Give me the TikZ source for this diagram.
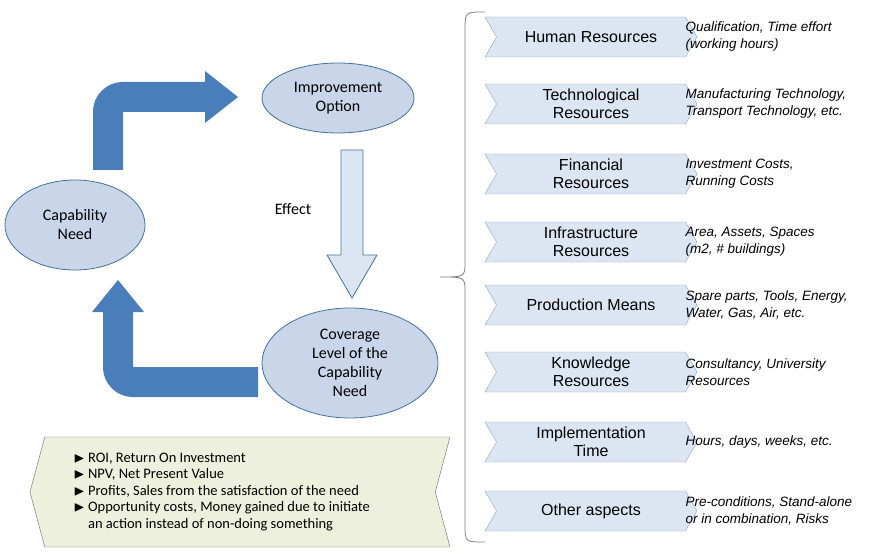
\documentclass[tikz,border=0pt]{standalone}
\usepackage{amssymb}
\usepackage{fontspec}
\setmainfont{Liberation Sans}
\newfontfamily\calib{Carlito}
\usetikzlibrary{shapes.geometric,shapes.arrows,shapes.symbols,positioning,arrows.meta}
\definecolor{ellfill}{HTML}{C9D6EA}
\definecolor{ellline}{HTML}{41719C}
\definecolor{chevfill}{HTML}{DCE6F2}
\definecolor{chevline}{HTML}{8EA6C4}
\definecolor{bluearrow}{HTML}{4A7EBB}
\definecolor{notefill}{HTML}{EDF0DD}
\tikzset{
    need/.style={ellipse, draw=ellline, thick, fill=ellfill, align=center, inner sep=0pt,
        font=\calib\fontsize{16}{19}\selectfont},
    resource/.style={signal, signal from=west, signal to=east, signal pointer angle=120,
        draw=chevline, fill=chevfill, minimum width=212pt, minimum height=40pt, align=center,
        font=\fontsize{16}{18}\selectfont, inner sep=1pt},
    detail/.style={anchor=west, align=left, font=\itshape\fontsize{13.5}{17}\selectfont},
    bigarrow/.style={line width=30pt, draw=bluearrow, rounded corners=15pt}
}
\begin{document}
\begin{tikzpicture}[x=1pt,y=-1pt]
    \useasboundingbox (0,0) rectangle (883,556);

    % ellipses of the cycle
    \node[need, minimum width=140pt, minimum height=90pt] (capability) at (75,225) {Capability\\Need};
    \node[need, minimum width=152pt, minimum height=70pt] (improvement) at (338,98) {Improvement\\Option};
    \node[need, minimum width=176pt, minimum height=110pt] (coverage) at (350,363) {Coverage\\Level of the\\Capability\\Need};

    % bent blue arrows
    \coordinate (top start) at (108,170);
    \coordinate (top end) at (238,97);
    \coordinate (bottom start) at (258,382);
    \coordinate (bottom end) at (118,280);
    \draw[bigarrow] (top start) |- (205,97);
    \fill[bluearrow] (205,71) -- (top end) -- (205,123) -- cycle;
    \draw[bigarrow] (bottom start) -| (118,312);
    \fill[bluearrow] (92,312) -- (bottom end) -- (144,312) -- cycle;

    % effect arrow
    \filldraw[draw=ellline, thick, fill=chevfill] (341,150) -- (363,150) -- (363,255) -- (377,255)
        -- (352,298) -- (327,255) -- (341,255) -- cycle;
    \node[font=\calib\fontsize{16}{19}\selectfont] (effect) at (293,209) {Effect};

    % brace
    \draw[gray, thick] (485,12) .. controls (465,12) .. (465,30) -- (465,262)
        .. controls (465,277) .. (440,277) .. controls (465,277) .. (465,292)
        -- (465,525) .. controls (465,542) .. (485,542);

    % resources
    \foreach \name/\txt/\det/\y in {
        hr/Human Resources/{Qualification, Time effort\\(working hours)}/37,
        tr/{Technological\\Resources}/{Manufacturing Technology,\\Transport Technology, etc.}/104,
        fr/{Financial\\Resources}/{Investment Costs,\\Running Costs}/174,
        ir/{Infrastructure\\Resources}/{Area, Assets, Spaces\\(m2, \# buildings)}/242,
        pm/Production Means/{Spare parts, Tools, Energy,\\Water, Gas, Air, etc.}/305,
        kr/{Knowledge\\Resources}/{Consultancy, University\\Resources}/372,
        it/{Implementation\\Time}/{Hours, days, weeks, etc.}/442,
        oa/Other aspects/{Pre-conditions, Stand-alone\\or in combination, Risks}/511}{
        \node[resource] (\name) at (591,\y) {\txt};
        \node[detail] (\name detail) at (682,\y) {\det};
    }

    % indicators box
    \node[signal, signal from=east, signal to=west, signal pointer angle=150, draw=gray!80!black,
        fill=notefill, minimum width=420pt, minimum height=110pt, inner sep=0pt] (indicators) at (240,492) {};
    \node[anchor=west, align=left, font=\calib\fontsize{14.5}{16.5}\selectfont] (indicator text) at (70,492)
        {$\blacktriangleright$ ROI, Return On Investment\\
         $\blacktriangleright$ NPV, Net Present Value\\
         $\blacktriangleright$ Profits, Sales from the satisfaction of the need\\
         $\blacktriangleright$ Opportunity costs, Money gained due to initiate\\
         \phantom{$\blacktriangleright$ }an action instead of non-doing something};
\end{tikzpicture}
\end{document}
